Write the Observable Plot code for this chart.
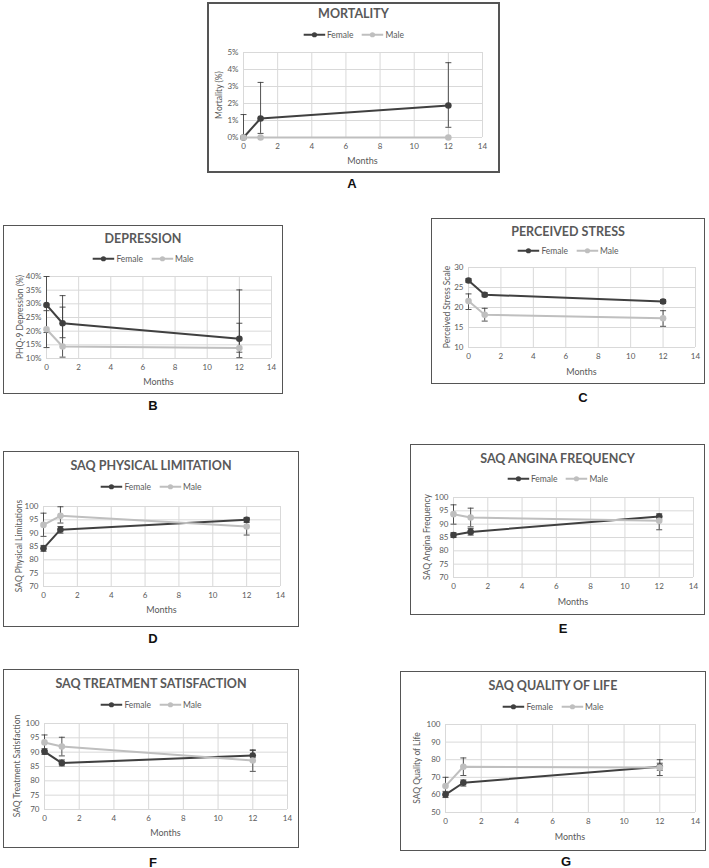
<!DOCTYPE html>
<html><head><meta charset="utf-8">
<script src="https://cdn.jsdelivr.net/npm/d3@7"></script>
<script src="https://cdn.jsdelivr.net/npm/@observablehq/plot@0.6"></script>
<style>
body{margin:0;background:#fff;}
#page{position:relative;width:709px;height:868px;overflow:hidden;font-family:Lato,"Open Sans",sans-serif;}
.box{position:absolute;border:1.5px solid #555;box-sizing:border-box;pointer-events:none;}
.holder{position:absolute;}
.t{position:absolute;transform:translate(-50%,-50%);white-space:nowrap;line-height:1;}
.title{font-weight:700;font-size:12.5px;color:#595959;}
.legend{font-size:8.5px;color:#595959;display:flex;align-items:center;gap:8px;}
.legend span{display:flex;align-items:center;gap:2px;}
.xl{font-size:9px;color:#595959;}
.yl{font-size:8.5px;color:#595959;transform:translate(-50%,-50%) rotate(-90deg);}
.cap{font-family:"Liberation Sans",Arial,sans-serif;font-weight:700;font-size:13px;color:#111;}
</style></head>
<body><div id="page"></div>
<script>
// ---------- data ----------
const months = [0, 1, 12];
const xTickValues = [0, 2, 4, 6, 8, 10, 12, 14];
const seriesNames = ["Female", "Male"];

const mortalityFemale   = [0, 1.12, 1.88];
const mortalityFemaleLo = [0, 0.24, 0.6];
const mortalityFemaleHi = [1.35, 3.24, 4.4];
const mortalityMale     = [0, 0, 0];
const mortalityMaleLo   = [0, 0, 0];
const mortalityMaleHi   = [0, 0, 0];

const depressionFemale   = [29.6, 22.9, 17.2];
const depressionFemaleLo = [19.5, 17.6, 12.3];
const depressionFemaleHi = [40, 33, 35.1];
const depressionMale     = [20.7, 14.4, 13.8];
const depressionMaleLo   = [14, 10.5, 10.3];
const depressionMaleHi   = [27.5, 28.8, 22.9];

const stressFemale   = [26.75, 23.2, 21.5];
const stressFemaleLo = [26.3, 22.7, 21.0];
const stressFemaleHi = [27.2, 23.7, 22.0];
const stressMale     = [21.6, 18.2, 17.3];
const stressMaleLo   = [19.5, 16.6, 15.3];
const stressMaleHi   = [23.4, 19.8, 19.2];

const physicalFemale   = [84.3, 91.3, 95.0];
const physicalFemaleLo = [83.2, 90.0, 94.0];
const physicalFemaleHi = [85.4, 92.5, 95.9];
const physicalMale     = [93.1, 96.5, 92.5];
const physicalMaleLo   = [88.8, 93.8, 89.3];
const physicalMaleHi   = [97.5, 99.9, 95.5];

const anginaFemale   = [85.9, 87.1, 92.9];
const anginaFemaleLo = [85.0, 85.9, 91.9];
const anginaFemaleHi = [86.8, 88.4, 93.9];
const anginaMale     = [93.75, 92.5, 91.25];
const anginaMaleLo   = [90.0, 89.0, 87.9];
const anginaMaleHi   = [97.25, 96.0, 92.8];

const satisfactionFemale   = [90.2, 86.2, 88.8];
const satisfactionFemaleLo = [89.2, 85.2, 87.0];
const satisfactionFemaleHi = [91.2, 87.3, 90.6];
const satisfactionMale     = [93.4, 92.0, 87.1];
const satisfactionMaleLo   = [90.6, 88.7, 83.3];
const satisfactionMaleHi   = [96.0, 95.2, 90.8];

const qolFemale   = [60.2, 66.9, 76.0];
const qolFemaleLo = [58.5, 65.0, 74.0];
const qolFemaleHi = [62.0, 68.5, 78.0];
const qolMale     = [65.0, 76.0, 75.5];
const qolMaleLo   = [60.0, 71.0, 71.0];
const qolMaleHi   = [70.0, 81.0, 80.0];

const titles = ["MORTALITY","DEPRESSION","PERCEIVED STRESS","SAQ PHYSICAL LIMITATION","SAQ ANGINA FREQUENCY","SAQ TREATMENT SATISFACTION","SAQ QUALITY OF LIFE"];
const yLabels = ["Mortality (%)","PHQ-9 Depression (%)","Perceived Stress Scale","SAQ Physical Limitations","SAQ Angina Frequency","SAQ Treatment Satisfaction","SAQ Quality of Life"];
const panelLetters = ["A","B","C","D","E","F","G"];
const yTickSets = [[0,1,2,3,4,5],[10,15,20,25,30,35,40],[10,15,20,25,30],[70,75,80,85,90,95,100],[70,75,80,85,90,95,100],[70,75,80,85,90,95,100],[50,60,70,80,90,100]];
const xLabel = "Months";

// ---------- layout (pixels) ----------
// box: [left, top, width, height]; plot: [x of 0, y of top, x of 14, y of bottom]
const layout = [
  {box:[207,2,293,171],  plot:[243,52,482,137],  title:14,  legend:35,  months:160, ylab:219, cap:[352,183]},
  {box:[3,225,280,169],  plot:[46,276,271,358],  title:239, legend:259, months:381, ylab:20,  cap:[153,405]},
  {box:[431,218,274,166],plot:[468,267,695,347], title:232, legend:251, months:371, ylab:447, cap:[583,397]},
  {box:[3,451,296,176],  plot:[43,506,280,586],  title:466, legend:487, months:609, ylab:19,  cap:[153,638]},
  {box:[410,444,295,171],plot:[453,497,693,577], title:459, legend:479, months:601, ylab:427, cap:[563,628]},
  {box:[3,669,296,179],  plot:[44,723,287,809],  title:684, legend:705, months:832, ylab:17,  cap:[153,862]},
  {box:[400,671,306,180],plot:[445,724,695,812], title:686, legend:707, months:836, ylab:417, cap:[566,861]}
];
const FEMALE = "#404040", MALE = "#bfbfbf", ERR = "#404040", GRID = "#d9d9d9";

const series = [
  [mortalityFemale, mortalityFemaleLo, mortalityFemaleHi, mortalityMale, mortalityMaleLo, mortalityMaleHi],
  [depressionFemale, depressionFemaleLo, depressionFemaleHi, depressionMale, depressionMaleLo, depressionMaleHi],
  [stressFemale, stressFemaleLo, stressFemaleHi, stressMale, stressMaleLo, stressMaleHi],
  [physicalFemale, physicalFemaleLo, physicalFemaleHi, physicalMale, physicalMaleLo, physicalMaleHi],
  [anginaFemale, anginaFemaleLo, anginaFemaleHi, anginaMale, anginaMaleLo, anginaMaleHi],
  [satisfactionFemale, satisfactionFemaleLo, satisfactionFemaleHi, satisfactionMale, satisfactionMaleLo, satisfactionMaleHi],
  [qolFemale, qolFemaleLo, qolFemaleHi, qolMale, qolMaleLo, qolMaleHi]
];

const capSymbol = {draw(ctx, size){const r = Math.sqrt(size/Math.PI); ctx.moveTo(-r,0); ctx.lineTo(r,0);}};
const page = document.getElementById("page");

function addText(cls, x, y, txt){
  const d = document.createElement("div");
  d.className = "t " + cls; d.style.left = x + "px"; d.style.top = y + "px"; d.textContent = txt;
  page.appendChild(d); return d;
}
function legendKey(color){
  return `<svg width="22" height="8"><line x1="0" y1="4" x2="22" y2="4" stroke="${color}" stroke-width="2"/><circle cx="11" cy="4" r="2.6" fill="${color}"/></svg>`;
}

layout.forEach((g, k) => {
  const [bx,by,bw,bh] = g.box;
  const [px0,py0,px1,py1] = g.plot;
  const [f, fLo, fHi, m, mLo, mHi] = series[k];
  const rowsF = months.map((mo,i)=>({m:mo, v:f[i], lo:fLo[i], hi:fHi[i]}));
  const rowsM = months.map((mo,i)=>({m:mo, v:m[i], lo:mLo[i], hi:mHi[i]}));
  const errF = rowsF.filter(d=>d.hi>d.lo), errM = rowsM.filter(d=>d.hi>d.lo);
  const ticks = yTickSets[k];
  const pct = k < 2;
  const chart = Plot.plot({
    width: bw, height: bh,
    marginLeft: px0-bx, marginRight: bx+bw-px1, marginTop: py0-by, marginBottom: by+bh-py1,
    x: {domain:[0,14]},
    y: {domain:[ticks[0], ticks[ticks.length-1]]},
    style: {fontFamily:"Lato, 'Open Sans', sans-serif", fontSize:"8px", color:"#595959", background:"transparent", overflow:"visible"},
    marks: [
      Plot.gridX({ticks:xTickValues, stroke:GRID, strokeOpacity:1, strokeWidth:1}),
      Plot.gridY({ticks:ticks, stroke:GRID, strokeOpacity:1, strokeWidth:1}),
      Plot.axisX({ticks:xTickValues, tickSize:0, tickPadding:6, label:null}),
      Plot.axisY({ticks:ticks, tickSize:0, tickPadding:5, label:null, tickFormat: pct ? (d=>d+"%") : (d=>String(d))}),
      Plot.ruleX(errF, {x:"m", y1:"lo", y2:"hi", stroke:ERR, strokeWidth:0.9}),
      Plot.dot(errF, {x:"m", y:"hi", symbol:capSymbol, r:3, stroke:ERR, fill:"none", strokeWidth:0.9}),
      Plot.dot(errF, {x:"m", y:"lo", symbol:capSymbol, r:3, stroke:ERR, fill:"none", strokeWidth:0.9}),
      Plot.line(rowsF, {x:"m", y:"v", stroke:FEMALE, strokeWidth:2}),
      Plot.dot(rowsF, {x:"m", y:"v", fill:FEMALE, r:3.3}),
      Plot.ruleX(errM, {x:"m", y1:"lo", y2:"hi", stroke:ERR, strokeWidth:0.9}),
      Plot.dot(errM, {x:"m", y:"hi", symbol:capSymbol, r:3, stroke:ERR, fill:"none", strokeWidth:0.9}),
      Plot.dot(errM, {x:"m", y:"lo", symbol:capSymbol, r:3, stroke:ERR, fill:"none", strokeWidth:0.9}),
      Plot.line(rowsM, {x:"m", y:"v", stroke:MALE, strokeWidth:2}),
      Plot.dot(rowsM, {x:"m", y:"v", fill:MALE, r:3.3})
    ]
  });
  const holder = document.createElement("div");
  holder.className = "holder"; holder.style.left = bx+"px"; holder.style.top = by+"px";
  holder.appendChild(chart); page.appendChild(holder);
  const box = document.createElement("div");
  box.className = "box"; box.style.left = bx+"px"; box.style.top = by+"px";
  box.style.width = bw+"px"; box.style.height = bh+"px";
  if (k === 0) box.style.borderWidth = "2px";
  page.appendChild(box);
  const cx = bx + bw/2;
  addText("title", cx, g.title, titles[k]);
  const lg = addText("legend", cx, g.legend, "");
  lg.innerHTML = `<span>${legendKey(FEMALE)}${seriesNames[0]}</span><span>${legendKey(MALE)}${seriesNames[1]}</span>`;
  addText("xl", (px0+px1)/2, g.months, xLabel);
  addText("yl", g.ylab, (py0+py1)/2, yLabels[k]);
  addText("cap", g.cap[0], g.cap[1], panelLetters[k]);
});
</script>
</body></html>
